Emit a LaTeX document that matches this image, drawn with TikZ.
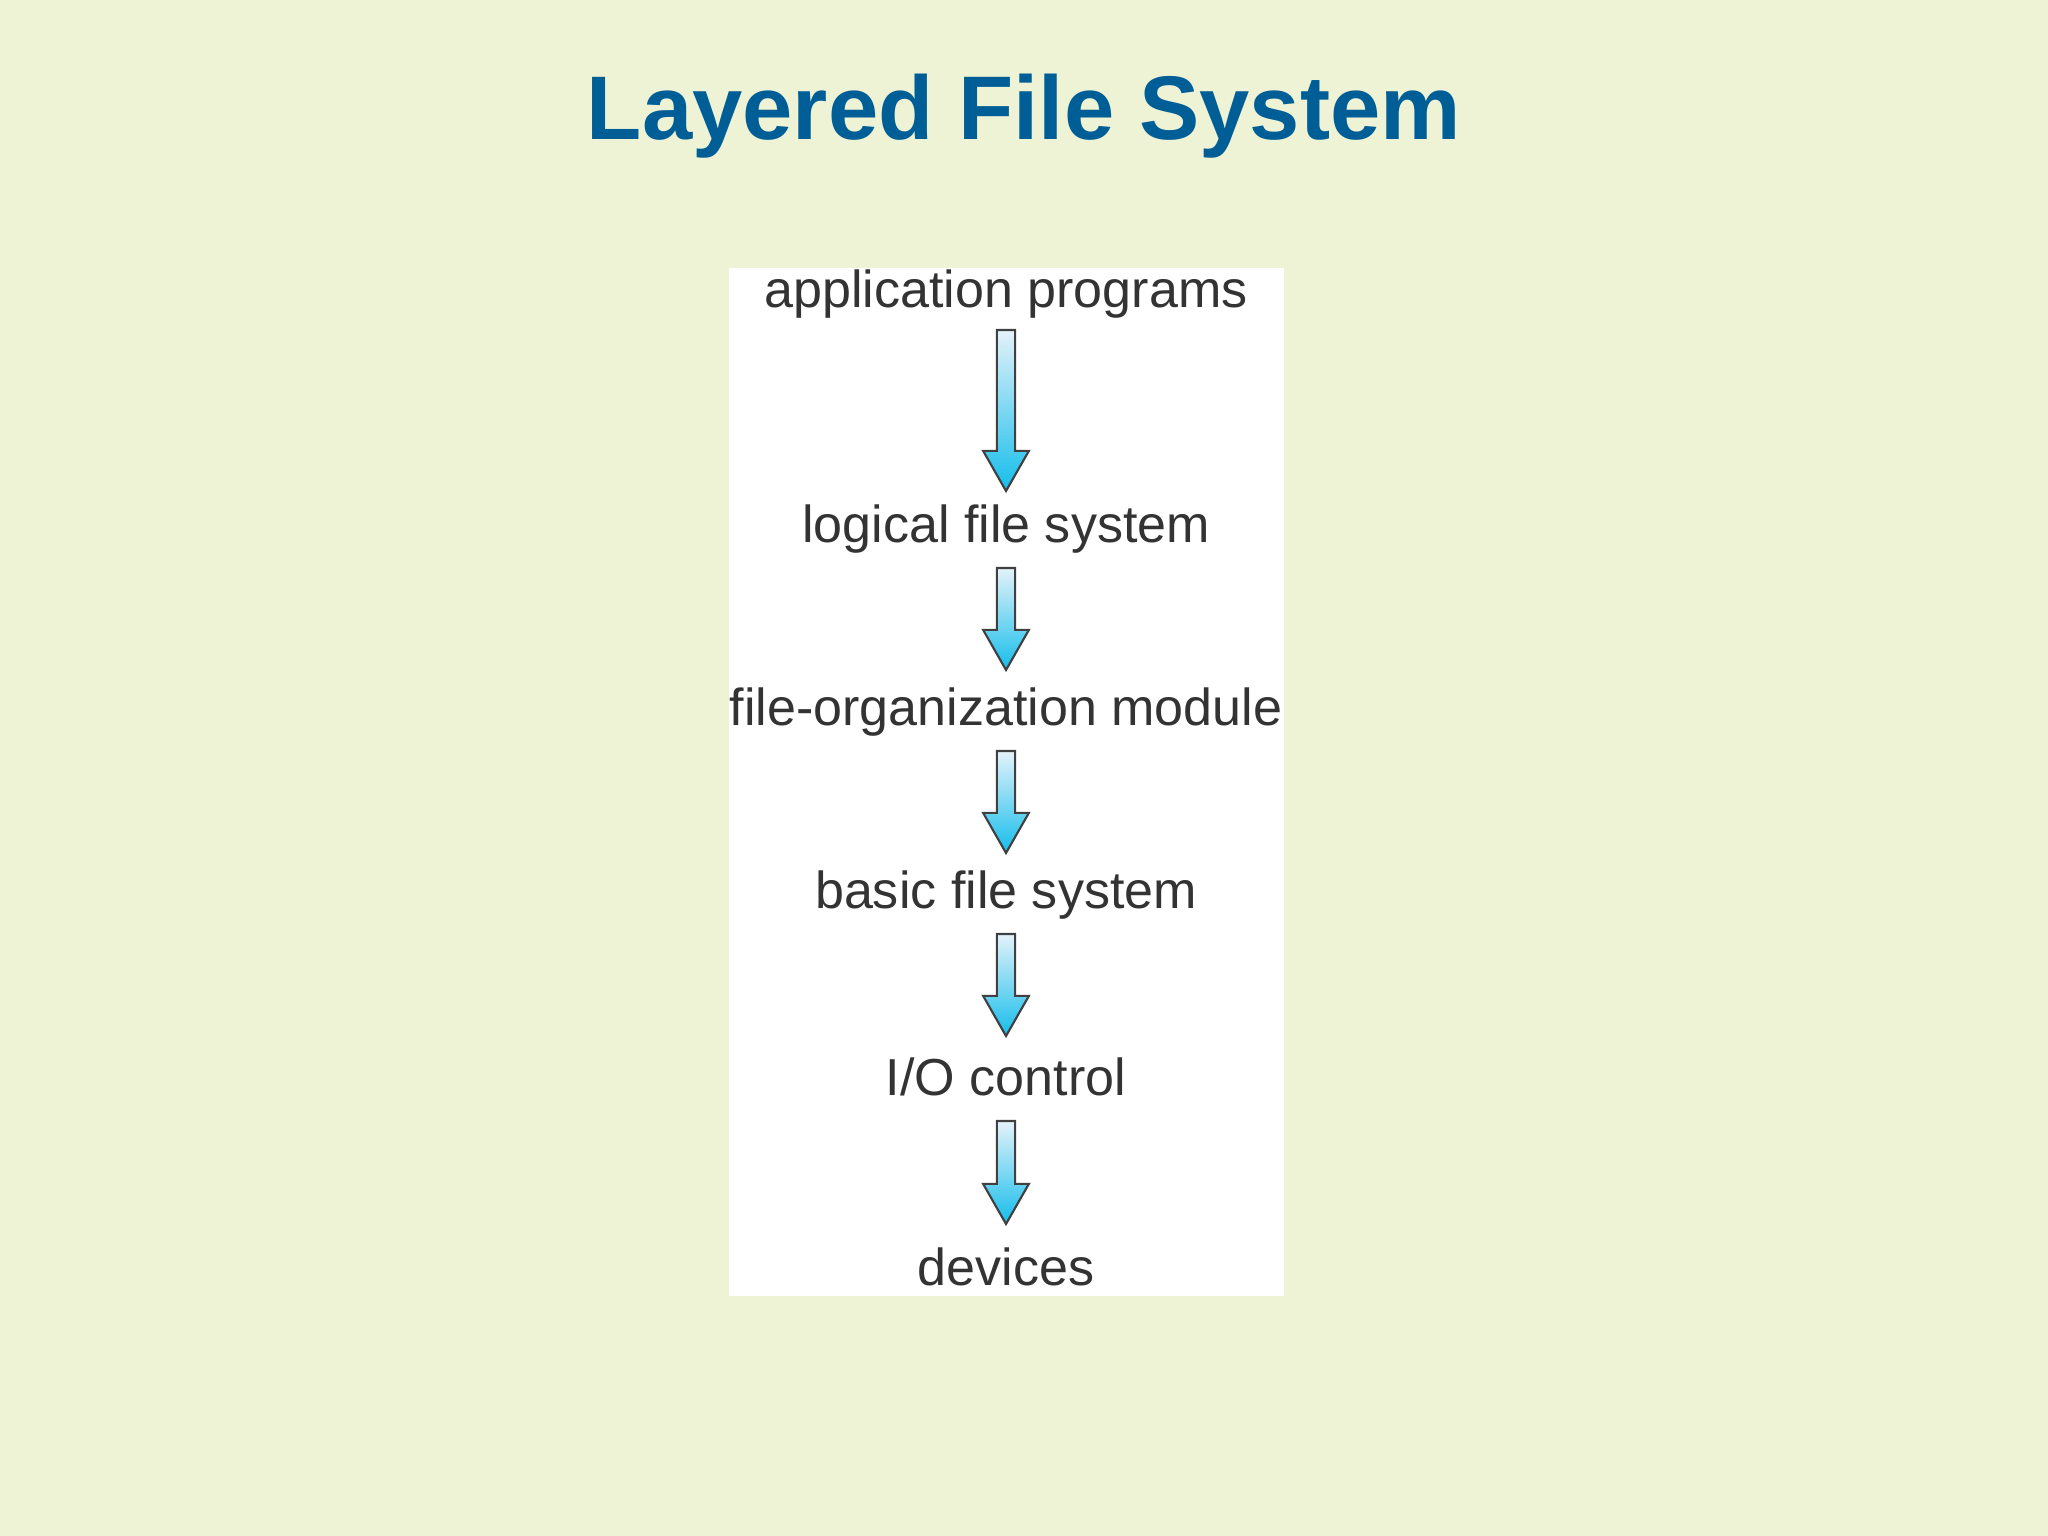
\documentclass[tikz,border=0pt]{standalone}
\usepackage{fontspec}
\setmainfont{Liberation Sans}
\usetikzlibrary{calc}
\definecolor{bgc}{HTML}{EEF3D6}
\definecolor{titlec}{HTML}{005E96}
\definecolor{txtc}{HTML}{333333}
\definecolor{atop}{HTML}{E4F2FA}
\definecolor{abot}{HTML}{14BDEB}
\tikzset{lbl/.style={font=\fontsize{14.8}{17}\selectfont, text=txtc, inner sep=0pt}}
\newcommand\blockarr[2]{%
  \path let \p1=(#1), \p2=(#2) in
    [draw=black!75, line width=0.6pt, top color=atop, bottom color=abot, line join=miter]
    (\x1-2.6pt,\y1) -- (\x1+2.6pt,\y1) -- (\x1+2.6pt,\y2+11.4pt) -- (\x1+6.5pt,\y2+11.4pt)
    -- (\x1,\y2) -- (\x1-6.5pt,\y2+11.4pt) -- (\x1-2.6pt,\y2+11.4pt) -- cycle;}
\begin{document}
\begin{tikzpicture}[x=0.01cm,y=-0.01cm]
\fill[bgc] (0,0) rectangle (2048,1536);
\useasboundingbox (0,0) rectangle (2048,1536);
\fill[white] (729,268) rectangle (1284,1296);
\node[font=\fontsize{25.7}{28}\selectfont\bfseries, text=titlec] (title) at (1024,116) {Layered File System};
\node[lbl] (n1) at (1006,294) {application programs};
\node[lbl] (n2) at (1006,529) {logical file system};
\node[lbl] (n3) at (1006,712) {file-organization module};
\node[lbl] (n4) at (1006,895) {basic file system};
\node[lbl] (n5) at (1006,1077) {I/O control};
\node[lbl] (n6) at (1006,1267) {devices};
\coordinate (s1) at (1006,330); \coordinate (t1) at (1006,491);
\coordinate (s2) at (1006,568); \coordinate (t2) at (1006,670);
\coordinate (s3) at (1006,751); \coordinate (t3) at (1006,853);
\coordinate (s4) at (1006,934); \coordinate (t4) at (1006,1036);
\coordinate (s5) at (1006,1121); \coordinate (t5) at (1006,1224);
\blockarr{s1}{t1}
\blockarr{s2}{t2}
\blockarr{s3}{t3}
\blockarr{s4}{t4}
\blockarr{s5}{t5}
\end{tikzpicture}
\end{document}
